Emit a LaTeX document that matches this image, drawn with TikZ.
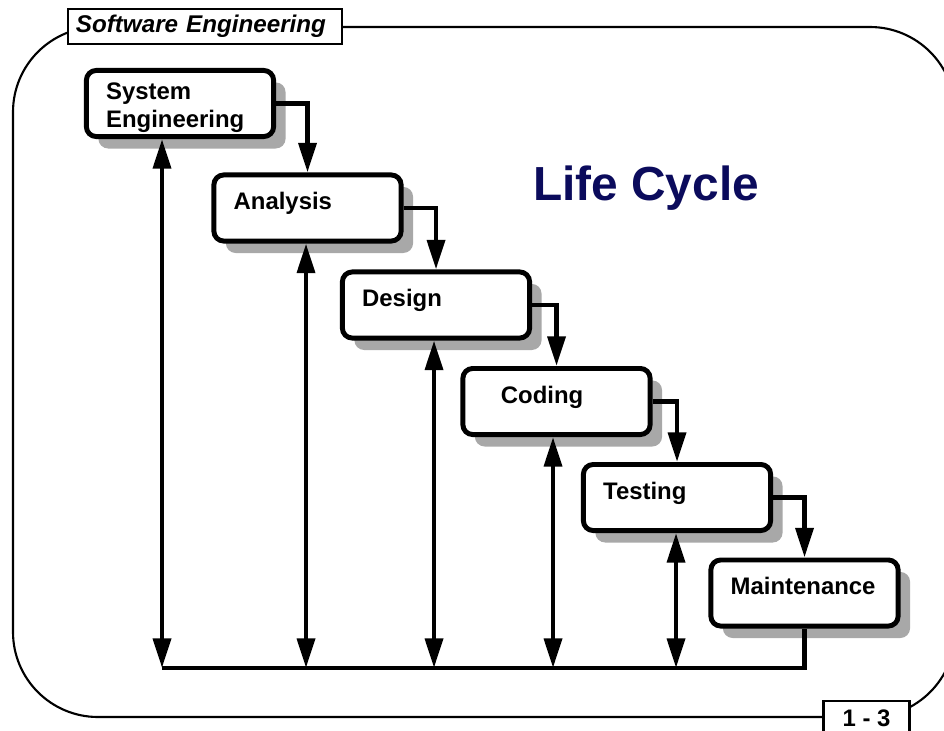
\documentclass[tikz,border=0pt]{standalone}
\usepackage{fontspec}
\setmainfont{Liberation Sans}
\usepackage{tikz}
\usetikzlibrary{arrows.meta, shadows, calc}
\definecolor{navy}{HTML}{0B0B5C}

\begin{document}
\begin{tikzpicture}[x=0.025cm, y=-0.025cm,
        phase/.style={draw, line width=3.5pt, rounded corners=7pt, fill=white,
            minimum width=4.68cm, minimum height=47pt, inner xsep=14pt, inner ysep=0pt,
            text width=105pt, align=left, text height=24.6pt, text depth=22.4pt,
            font=\fontsize{17}{20}\selectfont\bfseries,
            drop shadow={shadow xshift=8.5pt, shadow yshift=-8.5pt, fill=black!34, opacity=1}},
        tag/.style={draw, line width=1.6pt, fill=white, inner sep=0pt},
        flow/.style={line width=3.3pt, -{Triangle[length=21pt, width=12.5pt]}},
        twoway/.style={line width=3.3pt, {Triangle[length=21pt, width=12.5pt]}-{Triangle[length=21pt, width=12.5pt]}},
        bus/.style={line width=3.3pt, line join=miter}]
                    \useasboundingbox (0,0) rectangle (944,730);
                    % slide frame and tags
                    \draw[line width=1.5pt, rounded corners=2.125cm] (13,27) rectangle (955,717);
                    \node[tag, text width=6.45cm, inner xsep=0.2cm, align=left, minimum height=0.875cm,
                        font=\fontsize{17.2}{20}\selectfont\bfseries\itshape] (swe) at (205,26.5) {Software Engineering};
                    \node[tag, anchor=north, minimum width=2.15cm, text height=17.8pt, text depth=14pt,
                        font=\fontsize{17}{20}\selectfont\bfseries] (page) at (866.5,700) {1 - 3};
                    \node[anchor=base, text=navy, font=\fontsize{34}{40}\selectfont\bfseries] (title) at (646,200) {Life Cycle};
                    % phases
                    \node[phase, text height=20.3pt, text depth=26.7pt] (sys) at (180,103.5) {System\\Engineering};
                    \node[phase] (ana) at (307.5,208) {Analysis};
                    \node[phase] (des) at (436,305) {Design};
                    \node[phase] (cod) at (556.5,401.5) {\hspace*{13pt}Coding};
                    \node[phase] (tes) at (677,497.5) {Testing};
                    \node[phase] (mai) at (804.5,593) {Maintenance};
                    % downward flow
                    \draw[flow] (sys.east) -| (ana.north);
                    \draw[flow] (ana.east) -| (des.north);
                    \draw[flow] (des.east) -| (cod.north);
                    \draw[flow] (cod.east) -| (tes.north);
                    \draw[flow] (tes.east) -| (mai.north);
                    % feedback
                    \coordinate (r1) at (162,668);
                    \coordinate (r2) at (306,668);
                    \coordinate (r3) at (434,668);
                    \coordinate (r4) at (553,668);
                    \coordinate (r5) at (676,668);
                    \draw[bus] (r1) -- (r1 -| mai.south) -- (mai.south);
                    \foreach \c/\n in {r1/sys, r2/ana, r3/des, r4/cod, r5/tes}
                        \draw[twoway] (\c) -- (\c |- \n.south);
                \end{tikzpicture}
\end{document}
